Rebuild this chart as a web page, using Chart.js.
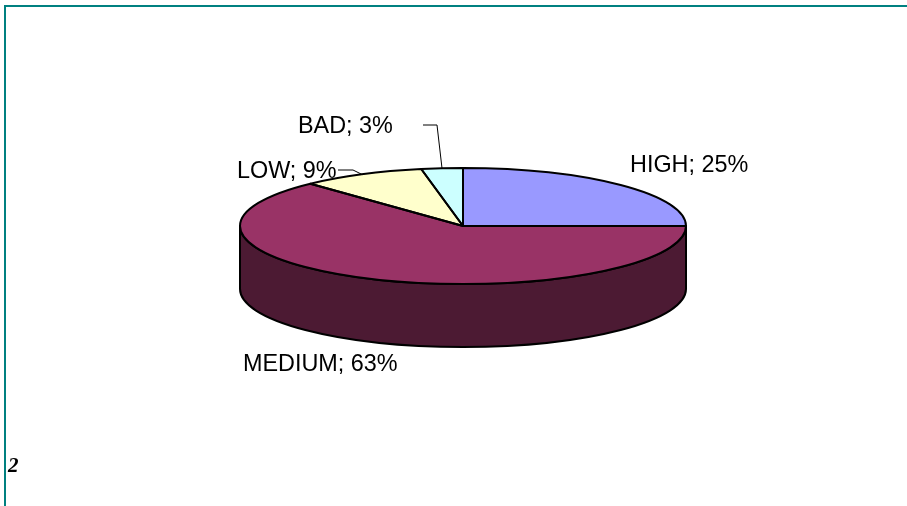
<!DOCTYPE html>
<html>
<head>
<meta charset="utf-8">
<script src="https://cdn.jsdelivr.net/npm/chart.js@4.4.0/dist/chart.umd.min.js"></script>
<style>
  html, body { margin: 0; padding: 0; background: #fff; }
  #wrap { position: relative; width: 907px; height: 506px; overflow: hidden; }
  #frame { position: absolute; left: 4px; top: 5px; right: -4px; bottom: -4px;
           border-top: 2px solid #008080; border-left: 2px solid #008080; pointer-events: none; }
</style>
</head>
<body>
<div id="wrap">
  <canvas id="pie" width="907" height="506"></canvas>
  <div id="frame"></div>
</div>
<script>
// データ
const categories = ["HIGH", "MEDIUM", "LOW", "BAD"];
const shares = [25, 63, 9, 3];

// 色 (上面 / 側面)
const topColors = ["#9999ff", "#993366", "#ffffcc", "#ccffff"];
const sideColors = ["#4d4d80", "#4c1a33", "#80805f", "#668080"];

// 楕円のつぶし具合と厚み
const SQUASH = 58 / 223;
const DEPTH = 63;

// ラベル位置 [x, baseline] と引き出し線の始点
const labelPos = [[630, 172], [243, 371], [237, 178], [298, 133]];
const leaderStart = [null, null, [338, 170, 353], [423, 125, 437]];

function geom(chart) {
  const arcs = chart.getDatasetMeta(0).data;
  const rx = arcs[0].outerRadius;
  return { arcs, cx: arcs[0].x, cy: arcs[0].y, rx, ry: rx * SQUASH };
}

const pie3d = {
  id: "pie3d",
  beforeDatasetsDraw(chart) {
    const ctx = chart.ctx;
    const { arcs, cx, cy, rx, ry } = geom(chart);

    // 側面 (手前側 0..π)
    arcs.forEach((arc, i) => {
      const lo = Math.max(arc.startAngle, 0);
      const hi = Math.min(arc.endAngle, Math.PI);
      if (hi <= lo) return;
      ctx.beginPath();
      ctx.ellipse(cx, cy, rx, ry, 0, lo, hi);
      ctx.ellipse(cx, cy + DEPTH, rx, ry, 0, hi, lo, true);
      ctx.closePath();
      ctx.fillStyle = sideColors[i];
      ctx.fill();
      ctx.lineWidth = 2;
      ctx.lineJoin = "round";
      ctx.strokeStyle = "#000";
      ctx.stroke();
    });

    ctx.save();
    ctx.translate(cx, cy);
    ctx.scale(1, SQUASH);
    ctx.translate(-cx, -cy);
  },
  afterDatasetsDraw(chart) {
    const ctx = chart.ctx;
    ctx.restore();
    const { arcs, cx, cy, rx, ry } = geom(chart);

    // 上面の輪郭
    ctx.save();
    ctx.lineWidth = 2;
    ctx.lineJoin = "round";
    ctx.strokeStyle = "#000";
    arcs.forEach(arc => {
      ctx.beginPath();
      ctx.moveTo(cx, cy);
      ctx.ellipse(cx, cy, rx, ry, 0, arc.startAngle, arc.endAngle);
      ctx.closePath();
      ctx.stroke();
    });
    ctx.restore();
  },
  afterDraw(chart) {
    const ctx = chart.ctx;
    const { arcs, cx, cy, rx, ry } = geom(chart);
    ctx.save();
    ctx.fillStyle = "#000";
    ctx.font = "23.4px 'Liberation Sans', Arial, sans-serif";
    ctx.textBaseline = "alphabetic";
    categories.forEach((c, i) => {
      ctx.fillText(`${c}; ${shares[i]}%`, labelPos[i][0], labelPos[i][1]);
      const ls = leaderStart[i];
      if (!ls) return;
      const mid = (arcs[i].startAngle + arcs[i].endAngle) / 2;
      ctx.beginPath();
      ctx.moveTo(ls[0], ls[1]);
      ctx.lineTo(ls[2], ls[1]);
      ctx.lineTo(cx + rx * Math.cos(mid), cy + ry * Math.sin(mid));
      ctx.lineWidth = 1;
      ctx.strokeStyle = "#000";
      ctx.stroke();
    });

    ctx.font = "italic bold 21px 'Liberation Serif', serif";
    ctx.fillText("2", 8, 472);
    ctx.restore();
  }
};

new Chart(document.getElementById("pie"), {
  type: "pie",
  data: {
    labels: categories,
    datasets: [{
      data: shares,
      backgroundColor: topColors,
      borderWidth: 0,
      radius: 223,
      clip: false
    }]
  },
  options: {
    responsive: false,
    animation: false,
    layout: { padding: { left: 30, right: 11, top: 0, bottom: 54 } },
    plugins: {
      legend: { display: false },
      tooltip: { enabled: false }
    },
    events: []
  },
  plugins: [pie3d]
});
</script>
</body>
</html>
